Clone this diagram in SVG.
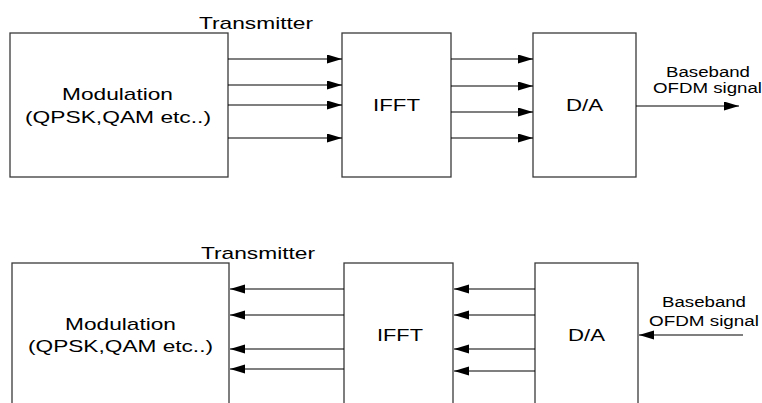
<svg xmlns="http://www.w3.org/2000/svg" width="762" height="403" viewBox="0 0 762 403">
<style>
.box{fill:#fff;stroke:#3a3a3a;stroke-width:1.3}
.ln{stroke:#000;stroke-width:1.1;fill:none}
text{font-family:"Liberation Sans",Arial,sans-serif;fill:#000}
.big{font-size:17px}
.sm{font-size:14px}
</style>
<defs>
<marker id="ah" markerUnits="userSpaceOnUse" markerWidth="16" markerHeight="10" refX="15" refY="4.5" orient="auto">
<path d="M0,0 L15,4.5 L0,9 Z" fill="#000"/>
</marker>
</defs>
<rect width="762" height="403" fill="#fff"/>
<text class="big" x="199" y="29" textLength="114" lengthAdjust="spacingAndGlyphs">Transmitter</text>
<text class="big" x="201" y="259" textLength="114" lengthAdjust="spacingAndGlyphs">Transmitter</text>
<g id="mod1">
<rect class="box" x="10" y="33" width="218" height="144"/>
<text class="big" x="62" y="100" textLength="111" lengthAdjust="spacingAndGlyphs">Modulation</text>
<text class="big" x="25" y="123" textLength="186" lengthAdjust="spacingAndGlyphs">(QPSK,QAM etc..)</text>
</g>
<g id="ifft1">
<rect class="box" x="342" y="33" width="109" height="144"/>
<text class="big" x="373" y="111" textLength="47" lengthAdjust="spacingAndGlyphs">IFFT</text>
</g>
<g id="da1">
<rect class="box" x="533" y="33" width="103" height="144"/>
<text class="big" x="566" y="111" textLength="37" lengthAdjust="spacingAndGlyphs">D/A</text>
</g>
<g id="out1">
<text class="sm" x="666" y="77" textLength="84" lengthAdjust="spacingAndGlyphs">Baseband</text>
<text class="sm" x="653" y="93" textLength="109" lengthAdjust="spacingAndGlyphs">OFDM signal</text>
</g>
<g id="mod2">
<rect class="box" x="12" y="263" width="217" height="150"/>
<text class="big" x="65" y="330" textLength="111" lengthAdjust="spacingAndGlyphs">Modulation</text>
<text class="big" x="28" y="352" textLength="185" lengthAdjust="spacingAndGlyphs">(QPSK,QAM etc..)</text>
</g>
<g id="ifft2">
<rect class="box" x="344" y="263" width="109" height="150"/>
<text class="big" x="377" y="341" textLength="46" lengthAdjust="spacingAndGlyphs">IFFT</text>
</g>
<g id="da2">
<rect class="box" x="535" y="263" width="103" height="150"/>
<text class="big" x="568" y="341" textLength="37" lengthAdjust="spacingAndGlyphs">D/A</text>
</g>
<g id="in2">
<text class="sm" x="662" y="307" textLength="84" lengthAdjust="spacingAndGlyphs">Baseband</text>
<text class="sm" x="649" y="326" textLength="110" lengthAdjust="spacingAndGlyphs">OFDM signal</text>
</g>
<g id="connectors">
<line class="ln" x1="228" y1="59" x2="342" y2="59" marker-end="url(#ah)"/>
<line class="ln" x1="228" y1="85" x2="342" y2="85" marker-end="url(#ah)"/>
<line class="ln" x1="228" y1="105" x2="342" y2="105" marker-end="url(#ah)"/>
<line class="ln" x1="228" y1="138" x2="342" y2="138" marker-end="url(#ah)"/>
<line class="ln" x1="451" y1="59" x2="533" y2="59" marker-end="url(#ah)"/>
<line class="ln" x1="451" y1="86" x2="533" y2="86" marker-end="url(#ah)"/>
<line class="ln" x1="451" y1="112" x2="533" y2="112" marker-end="url(#ah)"/>
<line class="ln" x1="451" y1="138" x2="533" y2="138" marker-end="url(#ah)"/>
<line class="ln" x1="636" y1="106" x2="739" y2="106" marker-end="url(#ah)"/>
<line class="ln" x1="344" y1="289" x2="230" y2="289" marker-end="url(#ah)"/>
<line class="ln" x1="344" y1="315" x2="230" y2="315" marker-end="url(#ah)"/>
<line class="ln" x1="344" y1="349" x2="230" y2="349" marker-end="url(#ah)"/>
<line class="ln" x1="344" y1="369" x2="230" y2="369" marker-end="url(#ah)"/>
<line class="ln" x1="535" y1="289" x2="454" y2="289" marker-end="url(#ah)"/>
<line class="ln" x1="535" y1="315" x2="454" y2="315" marker-end="url(#ah)"/>
<line class="ln" x1="535" y1="349" x2="454" y2="349" marker-end="url(#ah)"/>
<line class="ln" x1="535" y1="371" x2="454" y2="371" marker-end="url(#ah)"/>
<line class="ln" x1="743" y1="335" x2="639" y2="335" marker-end="url(#ah)"/>
</g>
</svg>
